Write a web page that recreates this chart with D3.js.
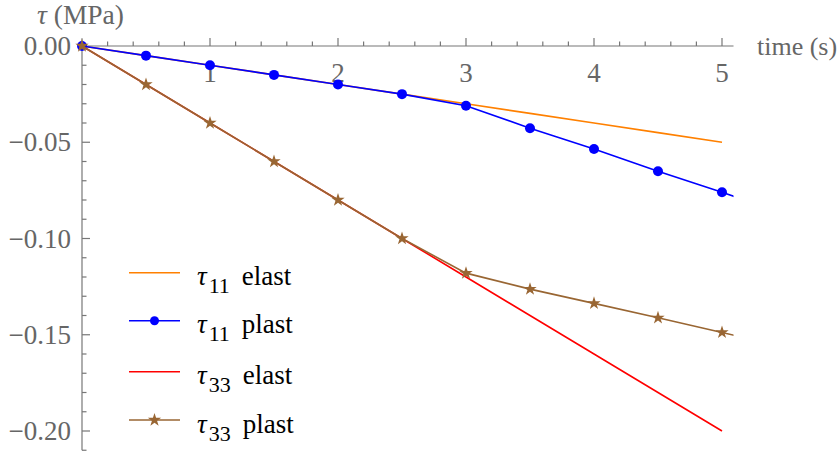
<!DOCTYPE html>
<html><head><meta charset="utf-8">
<script src="https://cdn.jsdelivr.net/npm/d3@7"></script>
<style>body{margin:0;background:#fff}svg{display:block}
svg text{font-family:"Liberation Serif","Times New Roman","DejaVu Serif",serif;}
</style>
</head><body>
<svg id="c" width="840" height="452"></svg>
<script>
// ---- data ----
const times      = [0, 0.5, 1, 1.5, 2, 2.5, 3, 3.5, 4, 4.5, 5];
const tau11Elast = [0, -0.005, -0.01, -0.015, -0.02, -0.025, -0.03, -0.035, -0.04, -0.045, -0.05];
const tau33Elast = [0, -0.02, -0.04, -0.06, -0.08, -0.10, -0.12, -0.14, -0.16, -0.18, -0.20];
const plastTimes = [0, 0.5, 1, 1.5, 2, 2.5, 3, 3.5, 4, 4.5, 5, 5.5];
const tau11Plast = [0, -0.005, -0.01, -0.015, -0.02, -0.025, -0.031, -0.0427, -0.0535, -0.0651, -0.076, -0.0875];
const tau33Plast = [0, -0.02, -0.04, -0.06, -0.08, -0.10, -0.118, -0.1263, -0.1337, -0.1412, -0.1488, -0.1565];
const xTicks = [1, 2, 3, 4, 5];
const yTicks = [0, -0.05, -0.10, -0.15, -0.20];
const yTickLabels = ["0.00", "\u22120.05", "\u22120.10", "\u22120.15", "\u22120.20"];
const legendSub = ["11", "11", "33", "33"];
const legendWord = ["elast", "plast", "elast", "plast"];

const colors = {orange: "#ff8000", blue: "#0000ff", red: "#ff0000", brown: "#996633"};
const axisCol = "#777";
const textCol = "#666";

const svg = d3.select("#c");
const x = d3.scaleLinear().domain([0, 5]).range([82, 722]);
const y = d3.scaleLinear().domain([0, -0.2]).range([46, 431]);
const xMax = 5.09, yMin = -0.21, yTop = 0.004;

svg.append("clipPath").attr("id", "clip").append("rect")
  .attr("x", x(0) - 10).attr("y", 0).attr("width", x(xMax) - x(0) + 10).attr("height", 452);

const ax = svg.append("g").attr("stroke", axisCol).attr("stroke-width", 1.2);
ax.append("line").attr("x1", x(0)).attr("x2", x(xMax)).attr("y1", y(0)).attr("y2", y(0));
ax.append("line").attr("x1", x(0)).attr("x2", x(0)).attr("y1", y(yTop)).attr("y2", y(yMin));
const xMinor = d3.range(1, 26).map(i => i * 0.2).filter(v => v <= xMax + 1e-9);
xMinor.forEach(v => {
  const major = Math.abs(v - Math.round(v)) < 1e-6;
  ax.append("line").attr("x1", x(v)).attr("x2", x(v)).attr("y1", y(0)).attr("y2", y(0) - (major ? 8 : 4.5));
});
const yMinor = d3.range(1, 22).map(i => -i * 0.01);
yMinor.forEach(v => {
  const major = Math.abs(v * 20 - Math.round(v * 20)) < 1e-6;
  ax.append("line").attr("x1", x(0)).attr("x2", x(0) + (major ? 8 : 4.5)).attr("y1", y(v)).attr("y2", y(v));
});

svg.append("g").selectAll("text").data(xTicks).join("text")
  .attr("x", d => x(d)).attr("y", 81.5).attr("text-anchor", "middle")
  .attr("font-size", 27).attr("fill", textCol).text(d => d);
svg.append("g").selectAll("text").data(yTicks).join("text")
  .attr("x", 71).attr("y", d => y(d) + 9).attr("text-anchor", "end")
  .attr("font-size", 27).attr("fill", textCol)
  .text((d, i) => yTickLabels[i]);
svg.append("text").attr("x", 757).attr("y", 55).attr("font-size", 26)
  .attr("fill", textCol).text("time (s)");
const yl = svg.append("text").attr("x", 37).attr("y", 24).attr("font-size", 27.5).attr("fill", textCol);
yl.append("tspan").attr("font-style", "italic").text("\u03c4");
yl.append("tspan").text(" (MPa)");

const line = d3.line().x(d => x(d[0])).y(d => y(d[1]));
const plot = svg.append("g").attr("clip-path", "url(#clip)");
const zip = (a, b) => a.map((t, i) => [t, b[i]]);

plot.append("path").datum(zip(times, tau11Elast)).attr("d", line)
  .attr("fill", "none").attr("stroke", colors.orange).attr("stroke-width", 1.6);
plot.append("path").datum(zip(plastTimes, tau11Plast)).attr("d", line)
  .attr("fill", "none").attr("stroke", colors.blue).attr("stroke-width", 1.6);
plot.append("g").selectAll("circle").data(zip(plastTimes, tau11Plast).filter(d => d[0] <= 5))
  .join("circle").attr("cx", d => x(d[0])).attr("cy", d => y(d[1])).attr("r", 5).attr("fill", colors.blue);
plot.append("path").datum(zip(times, tau33Elast)).attr("d", line)
  .attr("fill", "none").attr("stroke", colors.red).attr("stroke-width", 1.6);
plot.append("path").datum(zip(plastTimes, tau33Plast)).attr("d", line)
  .attr("fill", "none").attr("stroke", colors.brown).attr("stroke-width", 1.6);
const star = d3.symbol().type(d3.symbolStar).size(55);
plot.append("g").selectAll("path").data(zip(plastTimes, tau33Plast).filter(d => d[0] <= 5))
  .join("path").attr("d", star).attr("transform", d => `translate(${x(d[0])},${y(d[1])})`)
  .attr("fill", colors.brown);

const legColors = [colors.orange, colors.blue, colors.red, colors.brown];
const legY = [272.7, 320.7, 371.7, 420];
legY.forEach((yc, i) => {
  const g = svg.append("g");
  g.append("line").attr("x1", 129).attr("x2", 180).attr("y1", yc).attr("y2", yc)
    .attr("stroke", legColors[i]).attr("stroke-width", 1.6);
  if (i === 1) g.append("circle").attr("cx", 154.5).attr("cy", yc).attr("r", 4.5).attr("fill", colors.blue);
  if (i === 3) g.append("path").attr("d", star).attr("transform", `translate(154.5,${yc})`).attr("fill", colors.brown);
  const t = g.append("text").attr("x", 197).attr("y", yc + 12.5).attr("font-size", 27).attr("fill", "#000");
  t.append("tspan").attr("font-style", "italic").text("\u03c4");
  t.append("tspan").attr("dx", 2).attr("dy", 8).attr("font-size", 22).text(legendSub[i]);
  t.append("tspan").attr("dx", 12).attr("dy", -8).text(legendWord[i]);
});
</script>
</body></html>
